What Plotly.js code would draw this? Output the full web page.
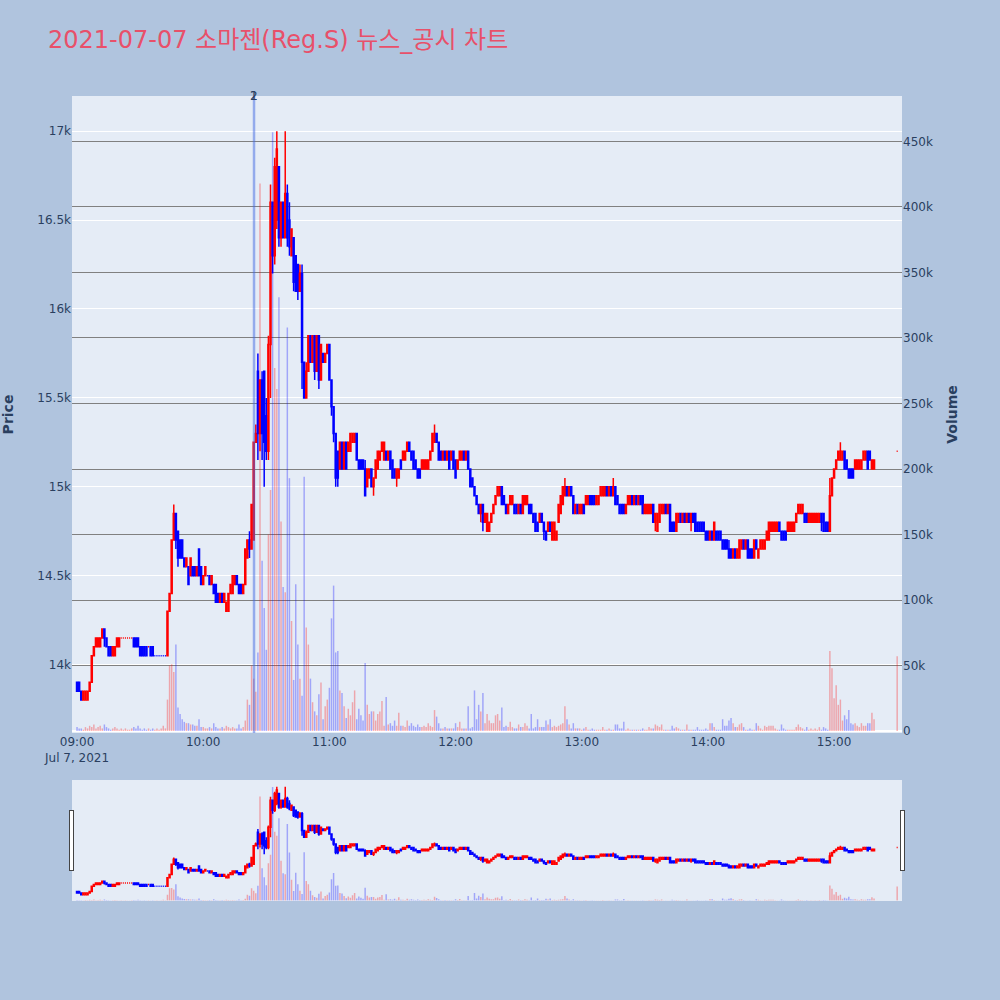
<!DOCTYPE html>
<html><head><meta charset="utf-8">
<script src="https://cdn.plot.ly/plotly-3.0.1.min.js"></script>
<style>html,body{margin:0;padding:0;background:#B0C4DE}</style>
</head><body>
<div id="chart" style="width:1000px;height:1000px"></div>
<script>
// ---- data (1-minute bars, 2021-07-07) ----
const tradeDate = '2021-07-07';
const sessionStart = '09:00';
const regularMinutes = 380;          // 09:00 .. 15:19
const closingAuction = '15:30';

const openPrice = [
13900,13900,13850,13800,13800,13800,13850,13900,14050,14100,
14100,14100,14150,14200,14150,14100,14100,14050,14050,14100,
14100,14150,14150,14150,14150,14150,14150,14150,14150,14150,
14100,14100,14100,14100,14100,14100,14100,14050,14050,14050,
14050,14050,14050,14050,14300,14400,14700,14850,14750,14700,
14700,14600,14550,14550,14500,14550,14550,14500,14650,14550,
14450,14500,14500,14500,14450,14450,14450,14400,14350,14400,
14350,14300,14300,14400,14400,14450,14500,14450,14450,14400,
14450,14600,14700,14650,14700,15250,15650,15300,15600,15650,
15400,15200,15800,16600,16300,16500,16800,16400,16600,16400,
16650,16500,16300,16400,16300,16250,16100,16200,15700,15500,
15650,15850,15700,15850,15650,15850,15600,15750,15700,15750,
15800,15600,15450,15300,15200,15100,15250,15100,15250,15200,
15200,15250,15250,15300,15150,15150,15150,15100,15000,15050,
15100,15000,15050,15100,15150,15200,15150,15200,15150,15200,
15150,15100,15050,15050,15150,15150,15150,15200,15250,15200,
15200,15150,15100,15100,15100,15100,15100,15100,15150,15200,
15250,15300,15250,15200,15150,15200,15150,15200,15150,15200,
15150,15100,15150,15150,15200,15150,15200,15100,15050,15000,
14950,14900,14850,14900,14800,14750,14750,14800,14850,14900,
14950,14950,15000,14950,14900,14850,14900,14900,14900,14900,
14850,14900,14850,14900,14900,14900,14900,14850,14850,14800,
14800,14850,14800,14750,14750,14800,14700,14700,14700,14800,
14850,14900,14950,15000,14950,15000,14950,14850,14900,14850,
14850,14900,14900,14900,14950,14950,14950,14900,14900,14950,
14950,14950,15000,14950,15000,14950,15000,14950,14900,14900,
14900,14850,14900,14900,14950,14900,14950,14900,14950,14950,
14850,14850,14850,14850,14900,14800,14750,14800,14850,14850,
14900,14850,14900,14800,14800,14750,14800,14850,14800,14850,
14800,14850,14800,14850,14850,14800,14800,14800,14800,14750,
14750,14700,14750,14700,14750,14750,14750,14700,14700,14700,
14650,14650,14600,14650,14600,14600,14650,14700,14650,14700,
14650,14650,14600,14700,14600,14650,14650,14650,14700,14700,
14750,14750,14750,14750,14800,14750,14750,14750,14750,14750,
14750,14750,14800,14850,14850,14850,14850,14850,14800,14800,
14800,14800,14800,14800,14850,14850,14800,14800,14750,14950,
15050,15100,15150,15150,15150,15200,15150,15100,15100,15100,
15100,15100,15100,15100,15150,15150,15200,15200,15100,15100,
15200];

const highPrice = [
13900,13900,13850,13850,13850,13850,13900,14050,14100,14150,
14150,14150,14200,14200,14150,14100,14100,14100,14100,14150,
14150,14150,14150,14150,14150,14150,14150,14150,14150,14150,
14100,14100,14100,14100,14100,14100,14100,14050,14050,14050,
14050,14050,14050,14300,14400,14700,14900,14850,14750,14700,
14700,14600,14600,14550,14600,14550,14550,14550,14650,14550,
14500,14550,14500,14500,14500,14450,14450,14400,14400,14400,
14400,14350,14400,14450,14500,14500,14500,14450,14450,14450,
14650,14700,14750,14900,15250,15350,15750,15600,15650,15650,
15500,15850,16700,16600,16850,17000,16800,16600,16600,17000,
16700,16600,16450,16400,16300,16250,16250,16250,15700,15700,
15850,15850,15850,15850,15850,15850,15800,15750,15750,15800,
15800,15600,15450,15300,15200,15250,15250,15250,15250,15250,
15300,15300,15300,15300,15150,15150,15150,15150,15100,15100,
15100,15050,15150,15200,15200,15250,15250,15200,15200,15200,
15150,15100,15100,15100,15150,15200,15200,15250,15250,15200,
15200,15150,15100,15100,15150,15150,15150,15150,15200,15300,
15350,15300,15250,15200,15200,15200,15200,15200,15200,15200,
15150,15150,15200,15200,15200,15200,15200,15100,15050,15000,
14950,14900,14900,14900,14850,14850,14800,14850,14900,14950,
15000,15000,15000,14950,14900,14900,14950,14950,14900,14900,
14900,14900,14950,14950,14950,14900,14900,14850,14850,14800,
14850,14850,14800,14750,14800,14800,14800,14800,14750,14900,
14950,15000,15050,15000,15000,15000,14950,14900,14900,14900,
14900,14900,14950,14950,14950,14950,14950,14950,14950,15000,
15000,15000,15000,15000,15000,15050,15000,14950,14900,14900,
14900,14900,14950,14950,14950,14950,14950,14950,14950,14950,
14900,14900,14900,14900,14900,14850,14850,14900,14900,14900,
14900,14900,14900,14800,14800,14850,14850,14850,14850,14850,
14850,14850,14850,14850,14850,14800,14800,14800,14800,14750,
14750,14750,14750,14800,14750,14750,14750,14700,14700,14700,
14700,14650,14650,14650,14650,14700,14700,14700,14700,14700,
14650,14650,14700,14700,14650,14700,14700,14700,14750,14800,
14800,14800,14800,14800,14800,14750,14750,14750,14800,14800,
14800,14800,14850,14900,14900,14900,14850,14850,14850,14850,
14850,14850,14850,14850,14850,14850,14800,14800,15050,15050,
15100,15150,15200,15250,15200,15200,15150,15100,15100,15100,
15150,15150,15150,15150,15200,15200,15200,15200,15150,15150,
15200];

const lowPrice = [
13850,13850,13800,13800,13800,13800,13850,13900,14050,14100,
14100,14100,14150,14100,14100,14050,14050,14050,14050,14100,
14100,14150,14150,14150,14150,14150,14150,14100,14100,14100,
14050,14050,14050,14050,14100,14050,14050,14050,14050,14050,
14050,14050,14050,14050,14300,14400,14700,14650,14550,14600,
14600,14550,14550,14450,14500,14500,14500,14500,14500,14450,
14450,14500,14500,14450,14450,14400,14350,14350,14350,14350,
14350,14300,14300,14400,14400,14450,14450,14400,14400,14400,
14450,14600,14600,14650,14700,15250,15150,15200,15150,15000,
15150,15150,15500,16200,16250,16450,16350,16350,16400,16400,
16350,16300,16300,16100,16100,16050,16100,15550,15500,15500,
15650,15700,15700,15600,15650,15550,15600,15700,15700,15750,
15600,15400,15250,15000,15000,15100,15100,15100,15100,15200,
15200,15250,15250,15150,15100,15100,15100,14950,15000,15050,
15000,14950,15050,15100,15150,15200,15150,15150,15150,15100,
15050,15050,15000,15050,15100,15150,15150,15200,15200,15150,
15100,15100,15050,15050,15100,15100,15100,15100,15150,15200,
15250,15250,15150,15150,15150,15150,15150,15100,15150,15100,
15050,15100,15150,15150,15150,15150,15100,15000,15000,14950,
14900,14850,14800,14750,14800,14750,14750,14800,14850,14900,
14950,14950,14900,14900,14850,14850,14900,14900,14850,14850,
14850,14850,14850,14900,14900,14850,14850,14800,14750,14750,
14800,14800,14700,14700,14750,14750,14700,14700,14700,14800,
14850,14900,14950,14950,14950,14950,14850,14850,14850,14850,
14850,14850,14900,14900,14900,14900,14900,14900,14900,14950,
14950,14950,14950,14950,14950,14950,14900,14900,14850,14850,
14850,14850,14900,14900,14900,14900,14900,14900,14900,14850,
14850,14850,14850,14850,14800,14750,14750,14800,14850,14850,
14850,14850,14750,14750,14750,14750,14800,14800,14800,14800,
14800,14800,14750,14800,14750,14750,14750,14750,14750,14700,
14700,14700,14700,14700,14700,14700,14700,14650,14650,14650,
14600,14600,14600,14600,14600,14600,14650,14650,14650,14600,
14600,14600,14600,14650,14600,14650,14650,14650,14700,14700,
14750,14750,14750,14750,14750,14700,14700,14700,14750,14750,
14750,14750,14800,14850,14850,14850,14800,14800,14800,14800,
14800,14800,14800,14800,14750,14750,14750,14750,14750,14950,
15050,15100,15150,15150,15150,15100,15100,15050,15050,15050,
15100,15100,15100,15100,15150,15150,15100,15150,15100,15100,
15200];

const closePrice = [
13850,13850,13800,13850,13850,13850,13900,14050,14100,14150,
14150,14150,14200,14150,14100,14050,14050,14100,14100,14150,
14150,14150,14150,14150,14150,14150,14150,14100,14100,14100,
14050,14050,14050,14050,14100,14050,14050,14050,14050,14050,
14050,14050,14050,14300,14400,14700,14850,14700,14600,14600,
14600,14550,14600,14450,14600,14500,14500,14550,14500,14450,
14500,14550,14500,14450,14500,14400,14350,14350,14400,14350,
14400,14350,14400,14450,14500,14500,14450,14400,14400,14450,
14650,14700,14650,14900,15250,15300,15300,15600,15300,15250,
15200,15800,16600,16300,16800,16900,16400,16600,16400,16650,
16400,16350,16450,16150,16100,16100,16200,15700,15500,15650,
15850,15700,15850,15650,15850,15600,15800,15700,15750,15800,
15600,15450,15300,15050,15050,15250,15100,15250,15100,15250,
15300,15300,15300,15150,15100,15100,15100,14950,15100,15100,
15000,15050,15150,15200,15200,15250,15250,15150,15200,15100,
15050,15050,15100,15100,15100,15200,15200,15250,15200,15150,
15100,15100,15050,15050,15150,15150,15150,15150,15200,15300,
15300,15250,15150,15150,15200,15150,15200,15100,15200,15100,
15050,15150,15200,15200,15150,15200,15100,15000,15000,14950,
14900,14850,14900,14800,14850,14850,14800,14850,14900,14950,
15000,15000,14900,14900,14850,14900,14950,14950,14850,14850,
14900,14850,14950,14950,14950,14850,14850,14800,14750,14750,
14850,14800,14750,14700,14800,14750,14800,14800,14750,14900,
14950,15000,15000,14950,15000,14950,14850,14900,14850,14900,
14900,14850,14950,14950,14900,14900,14900,14950,14950,15000,
15000,15000,14950,15000,14950,15000,14900,14900,14850,14850,
14850,14900,14950,14950,14900,14950,14900,14950,14900,14850,
14900,14900,14900,14900,14800,14850,14850,14900,14900,14900,
14850,14900,14750,14750,14750,14850,14850,14800,14850,14800,
14850,14800,14850,14800,14750,14750,14750,14750,14750,14700,
14700,14750,14700,14800,14700,14700,14700,14650,14650,14650,
14600,14600,14650,14600,14650,14700,14700,14650,14700,14600,
14600,14600,14700,14650,14650,14700,14700,14700,14750,14800,
14800,14800,14800,14800,14750,14700,14700,14700,14800,14800,
14800,14800,14850,14900,14900,14900,14800,14800,14850,14850,
14850,14850,14850,14850,14800,14750,14750,14750,14950,15050,
15100,15150,15200,15200,15200,15100,15100,15050,15050,15050,
15150,15150,15150,15150,15200,15200,15100,15150,15150,15150,
15200];

const volumeShares = [
3000,2000,2000,1000,3000,2000,4000,3000,5000,2000,
3000,4000,2000,5000,3000,2000,1000,2000,3000,2000,
1000,2000,1000,2000,1000,1000,2000,3000,2000,4000,
2000,1000,2000,1000,2000,1000,2000,1000,2000,1000,
2000,4000,2000,24000,50000,51000,45000,66000,18000,13000,
9000,7000,6000,6000,5000,5000,4000,4000,9000,3000,
3000,2000,2000,3000,2000,6000,3000,2000,2000,3000,
2000,4000,3000,2000,3000,2000,2000,5000,2000,3000,
8000,24000,20000,50000,40000,30000,60000,418000,130000,94000,
62000,150000,184000,457000,277000,261000,331000,160000,110000,106000,
308000,193000,84000,39000,112000,66000,40000,27000,194000,79000,
66000,40000,22000,15000,12000,28000,37000,9000,19000,24000,
33000,86000,111000,60000,61000,31000,29000,19000,10000,17000,
12000,22000,31000,9000,17000,12000,8000,52000,20000,13000,
15000,15000,8000,13000,15000,23000,4000,26000,5000,6000,
4000,8000,4000,14000,4000,4000,3000,8000,4000,6000,
4000,3000,5000,3000,3000,4000,3000,6000,4000,3000,
16000,11000,6000,2000,2000,3000,2000,2000,2000,2000,
6000,3000,7000,2000,2000,2000,19000,2000,3000,31000,
9000,20000,15000,29000,6000,13000,8000,6000,6000,12000,
13000,8000,18000,3000,4000,3000,7000,3000,2000,2000,
5000,3000,3000,6000,4000,2000,13000,2000,3000,9000,
3000,3000,3000,8000,5000,9000,3000,4000,3000,4000,
5000,6000,19000,9000,5000,2000,6000,2000,2000,2000,
1000,2000,3000,1000,1000,2000,1000,1000,1000,1000,
3000,1000,1000,2000,1000,1000,5000,5000,2000,2000,
7000,1000,2000,1000,1000,1000,1000,1000,1000,2000,
1000,1000,3000,2000,2000,5000,4000,3000,5000,1000,
1000,1000,1000,4000,2000,3000,2000,1000,1000,1000,
5000,1000,1000,1000,1000,3000,1000,1000,1000,2000,
1000,6000,6000,3000,1000,1000,1000,9000,4000,4000,
8000,10000,6000,3000,3000,5000,6000,3000,1000,1000,
2000,1000,1000,6000,4000,2000,1000,4000,3000,4000,
4000,4000,2000,1000,1000,5000,2000,1000,1000,1000,
1000,1000,3000,5000,3000,2000,1000,3000,1000,2000,
1000,2000,1000,3000,1000,3000,2000,1000,61000,48000,
25000,35000,20000,24000,8000,12000,9000,16000,6000,5000,
6000,4000,3000,6000,4000,4000,6000,6000,14000,9000,
57000];

const newsTimes = ['10:24:00', '10:24:20'];
const newsLabels = ['1', '2'];
const titleText = '2021-07-07 소마젠(Reg.S) 뉴스_공시 차트';

// ---- build time stamps ----
function pad(n){return (n<10?'0':'')+n;}
const times = [];
{
  const [h0, m0] = sessionStart.split(':').map(Number);
  for (let i = 0; i < regularMinutes; i++) {
    const t = h0*60 + m0 + i;
    times.push(tradeDate + ' ' + pad(Math.floor(t/60)) + ':' + pad(t%60) + ':00');
  }
  times.push(tradeDate + ' ' + closingAuction + ':00');
}

const volColors = closePrice.map((c, i) => c >= openPrice[i] ? 'rgba(255,0,0,0.3)' : 'rgba(0,0,255,0.3)');

const traces = [
  {
    type: 'candlestick', x: times,
    open: openPrice, high: highPrice, low: lowPrice, close: closePrice,
    increasing: {line: {color: 'red', width: 1.5}, fillcolor: 'red'},
    decreasing: {line: {color: 'blue', width: 1.5}, fillcolor: 'blue'},
    whiskerwidth: 0, name: 'Price', yaxis: 'y', hoverinfo: 'skip'
  },
  {
    type: 'bar', x: times, y: volumeShares, yaxis: 'y2',
    marker: {color: volColors, line: {width: 0}}, name: 'Volume', hoverinfo: 'skip'
  }
];

const fontFam = '"DejaVu Sans", Verdana, "Noto Sans CJK KR", sans-serif';
const layout = {
  width: 1000, height: 1000,
  paper_bgcolor: '#B0C4DE', plot_bgcolor: '#E5ECF6',
  font: {family: fontFam, color: '#2a3f5f', size: 12},
  title: {text: titleText, x: 0.048, xanchor: 'left', y: 0.96, yanchor: 'middle', yref: 'container',
          font: {family: '"DejaVu Sans", "Noto Sans CJK KR", sans-serif', size: 24, color: '#E8506A'}},
  margin: {l: 72, r: 98, t: 96, b: 100},
  showlegend: false,
  bargap: 0.3,
  xaxis: {
    type: 'date',
    range: [tradeDate + ' 08:57:36', tradeDate + ' 15:32:18'],
    showgrid: false, zeroline: false, ticks: '', showline: false,
    rangeslider: {visible: true, thickness: 0.15, bgcolor: '#E5ECF6', borderwidth: 0}
  },
  yaxis: {
    title: {text: '<b>Price</b>', font: {size: 14}, standoff: 26},
    range: [13615, 17198], gridcolor: 'white', gridwidth: 1, zeroline: false, ticks: ''
  },
  yaxis2: {
    title: {text: '<b>Volume</b>', font: {size: 14}, standoff: 15},
    overlaying: 'y', side: 'right', range: [-1500, 484700],
    showgrid: true, gridcolor: 'gray', gridwidth: 1,
    zeroline: true, zerolinecolor: 'white', zerolinewidth: 2, ticks: ''
  },
  shapes: newsTimes.map(t => ({
    type: 'line', xref: 'x', yref: 'paper', x0: tradeDate + ' ' + t, x1: tradeDate + ' ' + t,
    y0: 0, y1: 1, line: {color: 'rgba(65,105,225,0.35)', width: 2}
  })),
  annotations: newsTimes.map((t, i) => ({
    x: tradeDate + ' ' + t, y: 1, xref: 'x', yref: 'paper', yanchor: 'middle',
    text: newsLabels[i], showarrow: false, font: {size: 12, color: '#2a3f5f'}
  }))
};

Plotly.newPlot('chart', traces, layout, {displayModeBar: false});
</script>
</body></html>
